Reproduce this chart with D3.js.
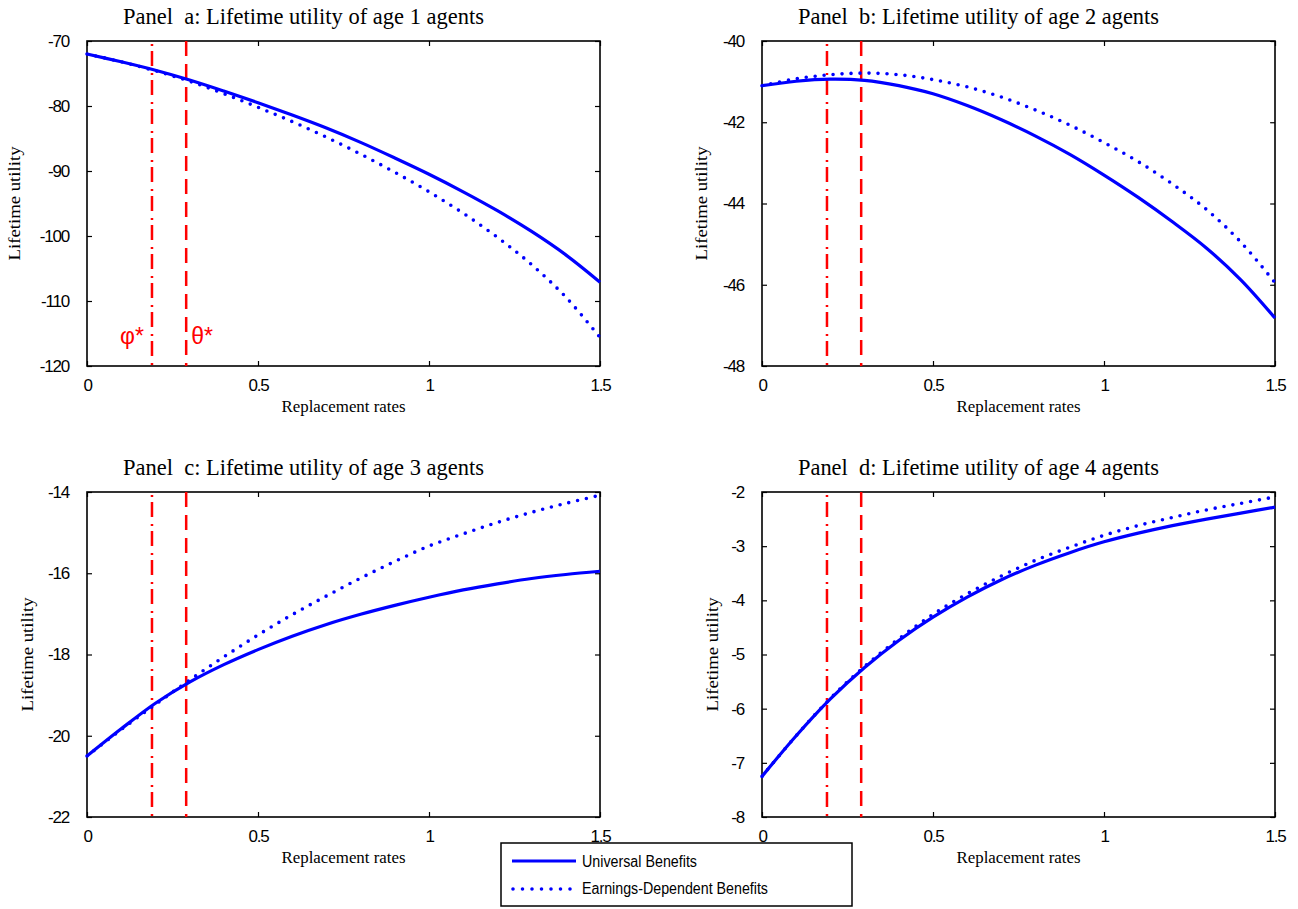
<!DOCTYPE html>
<html>
<head>
<meta charset="utf-8">
<script src="https://cdn.jsdelivr.net/npm/d3@7"></script>
<style>
  html, body { margin: 0; padding: 0; background: #ffffff; }
  svg { display: block; }
  text { white-space: pre; }
</style>
</head>
<body>
<svg id="chart" width="1298" height="909"></svg>
<script>
// ---------------- DATA ----------------
const replacementRates = [0, 0.1, 0.2, 0.3, 0.4, 0.5, 0.6, 0.7, 0.8, 0.9, 1.0, 1.1, 1.2, 1.3, 1.4, 1.5];

const ageOneUniversal = [-72.0, -73.2, -74.5, -76.0, -77.7, -79.5, -81.4, -83.4, -85.6, -88.0, -90.5, -93.2, -96.1, -99.3, -102.9, -107.1];
const ageOneEarnings  = [-72.0, -73.2, -74.6, -76.2, -78.1, -80.2, -82.4, -84.8, -87.4, -90.2, -93.2, -96.5, -100.2, -104.4, -109.4, -115.6];

const ageTwoUniversal = [-41.10, -40.99, -40.94, -40.97, -41.10, -41.30, -41.59, -41.94, -42.34, -42.79, -43.30, -43.85, -44.45, -45.10, -45.88, -46.82];
const ageTwoEarnings  = [-41.10, -40.93, -40.83, -40.79, -40.83, -40.95, -41.13, -41.38, -41.70, -42.07, -42.50, -42.97, -43.52, -44.15, -44.95, -45.95];

const ageThreeUniversal = [-20.50, -19.83, -19.20, -18.68, -18.25, -17.88, -17.55, -17.26, -17.01, -16.79, -16.59, -16.41, -16.26, -16.13, -16.03, -15.95];
const ageThreeEarnings  = [-20.50, -19.85, -19.23, -18.63, -18.06, -17.52, -17.02, -16.56, -16.12, -15.71, -15.33, -15.03, -14.75, -14.50, -14.28, -14.08];

const ageFourUniversal = [-7.25, -6.50, -5.82, -5.24, -4.74, -4.31, -3.94, -3.62, -3.35, -3.12, -2.92, -2.76, -2.62, -2.50, -2.39, -2.28];
const ageFourEarnings  = [-7.25, -6.50, -5.81, -5.22, -4.71, -4.26, -3.88, -3.55, -3.26, -3.02, -2.80, -2.62, -2.47, -2.33, -2.21, -2.09];

const xTickValues = [0, 0.5, 1, 1.5];
const xTickLabels = ["0", "0.5", "1", "1.5"];

const ageOneTicks   = [-70, -80, -90, -100, -110, -120];
const ageTwoTicks   = [-40, -42, -44, -46, -48];
const ageThreeTicks = [-14, -16, -18, -20, -22];
const ageFourTicks  = [-2, -3, -4, -5, -6, -7, -8];

const panelTitles = [
  "Panel  a: Lifetime utility of age 1 agents",
  "Panel  b: Lifetime utility of age 2 agents",
  "Panel  c: Lifetime utility of age 3 agents",
  "Panel  d: Lifetime utility of age 4 agents"
];

const phiStar = 0.19;
const thetaStar = 0.29;

const seriesNames = ["Universal Benefits", "Earnings-Dependent Benefits"];
const yAxisTitle = "Lifetime utility";
const xAxisTitle = "Replacement rates";

// ---------------- LAYOUT ----------------
const svg = d3.select("#chart");
const plotW = 513, plotH = 325;
const panels = [
  { left: 87,  top: 41,  title: panelTitles[0], uni: ageOneUniversal,   earn: ageOneEarnings,   ticks: ageOneTicks,   ylabX: 14,  markers: true },
  { left: 762, top: 41,  title: panelTitles[1], uni: ageTwoUniversal,   earn: ageTwoEarnings,   ticks: ageTwoTicks,   ylabX: 701, markers: false },
  { left: 87,  top: 492, title: panelTitles[2], uni: ageThreeUniversal, earn: ageThreeEarnings, ticks: ageThreeTicks, ylabX: 27,  markers: false },
  { left: 762, top: 492, title: panelTitles[3], uni: ageFourUniversal,  earn: ageFourEarnings,  ticks: ageFourTicks,  ylabX: 712, markers: false }
];

const BLUE = "#0000ff";
const RED = "#ff0000";
const tickFont = "'Liberation Sans', Arial, sans-serif";
const serifFont = "'Liberation Serif', 'Times New Roman', serif";

panels.forEach(p => {
  const g = svg.append("g").attr("transform", `translate(${p.left},${p.top})`);
  const x = d3.scaleLinear().domain([0, 1.5]).range([0, plotW]);
  const yMax = d3.max(p.ticks), yMin = d3.min(p.ticks);
  const y = d3.scaleLinear().domain([yMin, yMax]).range([plotH, 0]);

  // Title
  svg.append("text")
    .attr("x", p.left + 36)
    .attr("y", p.top - 17)
    .attr("font-family", serifFont)
    .attr("font-size", 23)
    .attr("textLength", 361)
    .attr("lengthAdjust", "spacingAndGlyphs")
    .attr("fill", "#000")
    .text(p.title);

  // Axes
  const styleAxis = sel => {
    sel.select(".domain").remove();
    sel.selectAll(".tick line").attr("stroke", "#000").attr("stroke-width", 1.2);
    sel.selectAll(".tick text")
      .attr("font-family", tickFont)
      .attr("font-size", 17)
      .attr("letter-spacing", "-1.2px")
      .attr("fill", "#000");
  };

  g.append("g").attr("transform", `translate(0,${plotH})`)
    .call(d3.axisBottom(x).tickValues(xTickValues).tickFormat((d, i) => xTickLabels[i])
      .tickSizeInner(-5).tickSizeOuter(0).tickPadding(13))
    .call(styleAxis);
  g.append("g")
    .call(d3.axisTop(x).tickValues(xTickValues).tickFormat("").tickSizeInner(-5).tickSizeOuter(0))
    .call(styleAxis);
  g.append("g")
    .call(d3.axisLeft(y).tickValues(p.ticks).tickFormat(d => String(d))
      .tickSizeInner(-5).tickSizeOuter(0).tickPadding(18))
    .call(styleAxis);
  g.append("g").attr("transform", `translate(${plotW},0)`)
    .call(d3.axisRight(y).tickValues(p.ticks).tickFormat("").tickSizeInner(-5).tickSizeOuter(0))
    .call(styleAxis);

  // Box
  g.append("rect")
    .attr("x", 0).attr("y", 0).attr("width", plotW).attr("height", plotH)
    .attr("fill", "none").attr("stroke", "#000").attr("stroke-width", 1.6);

  // Axis titles
  g.append("text")
    .attr("x", plotW / 2 - 62).attr("y", plotH + 46)
    .attr("font-family", serifFont).attr("font-size", 16)
    .attr("textLength", 124).attr("lengthAdjust", "spacingAndGlyphs")
    .attr("fill", "#000")
    .text(xAxisTitle);
  svg.append("text")
    .attr("transform", `translate(${p.ylabX},${p.top + plotH / 2 + 57}) rotate(-90)`)
    .attr("dominant-baseline", "central")
    .attr("font-family", serifFont).attr("font-size", 16)
    .attr("textLength", 114).attr("lengthAdjust", "spacingAndGlyphs")
    .attr("fill", "#000")
    .text(yAxisTitle);

  // Reference lines
  g.append("line")
    .attr("x1", x(phiStar)).attr("x2", x(phiStar))
    .attr("y1", 3).attr("y2", plotH)
    .attr("stroke", RED).attr("stroke-width", 2.5)
    .attr("stroke-dasharray", "2,5,15,7");
  g.append("line")
    .attr("x1", x(thetaStar)).attr("x2", x(thetaStar))
    .attr("y1", 0).attr("y2", plotH)
    .attr("stroke", RED).attr("stroke-width", 2.5)
    .attr("stroke-dasharray", "15,8");

  // Series
  const line = d3.line()
    .x((d, i) => x(replacementRates[i]))
    .y(d => y(d))
    .curve(d3.curveCatmullRom.alpha(0.5));

  g.append("path").datum(p.earn)
    .attr("d", line)
    .attr("fill", "none").attr("stroke", BLUE).attr("stroke-width", 3.6)
    .attr("stroke-linecap", "round")
    .attr("stroke-dasharray", "0,9");
  g.append("path").datum(p.uni)
    .attr("d", line)
    .attr("fill", "none").attr("stroke", BLUE).attr("stroke-width", 3.2);

  if (p.markers) {
    g.append("text")
      .attr("x", x(phiStar) - 32).attr("y", plotH - 22)
      .attr("font-family", tickFont).attr("font-size", 23)
      .attr("fill", RED).text("\u03C6*");
    g.append("text")
      .attr("x", x(thetaStar) + 5).attr("y", plotH - 22)
      .attr("font-family", tickFont).attr("font-size", 23)
      .attr("fill", RED).text("\u03B8*");
  }
});

// ---------------- LEGEND ----------------
const lg = svg.append("g").attr("transform", "translate(501,843)");
lg.append("rect")
  .attr("x", 0).attr("y", 0).attr("width", 351).attr("height", 63)
  .attr("fill", "#fff").attr("stroke", "#000").attr("stroke-width", 1.5);
lg.append("line")
  .attr("x1", 11).attr("x2", 75).attr("y1", 18).attr("y2", 18)
  .attr("stroke", BLUE).attr("stroke-width", 3.2);
lg.append("line")
  .attr("x1", 12).attr("x2", 70).attr("y1", 46).attr("y2", 46)
  .attr("stroke", BLUE).attr("stroke-width", 3.6)
  .attr("stroke-linecap", "round").attr("stroke-dasharray", "0,9.5");
lg.append("text")
  .attr("x", 81).attr("y", 24)
  .attr("font-family", tickFont).attr("font-size", 16)
  .attr("textLength", 115).attr("lengthAdjust", "spacingAndGlyphs")
  .text(seriesNames[0]);
lg.append("text")
  .attr("x", 81).attr("y", 51)
  .attr("font-family", tickFont).attr("font-size", 16)
  .attr("textLength", 186).attr("lengthAdjust", "spacingAndGlyphs")
  .text(seriesNames[1]);
</script>
</body>
</html>
